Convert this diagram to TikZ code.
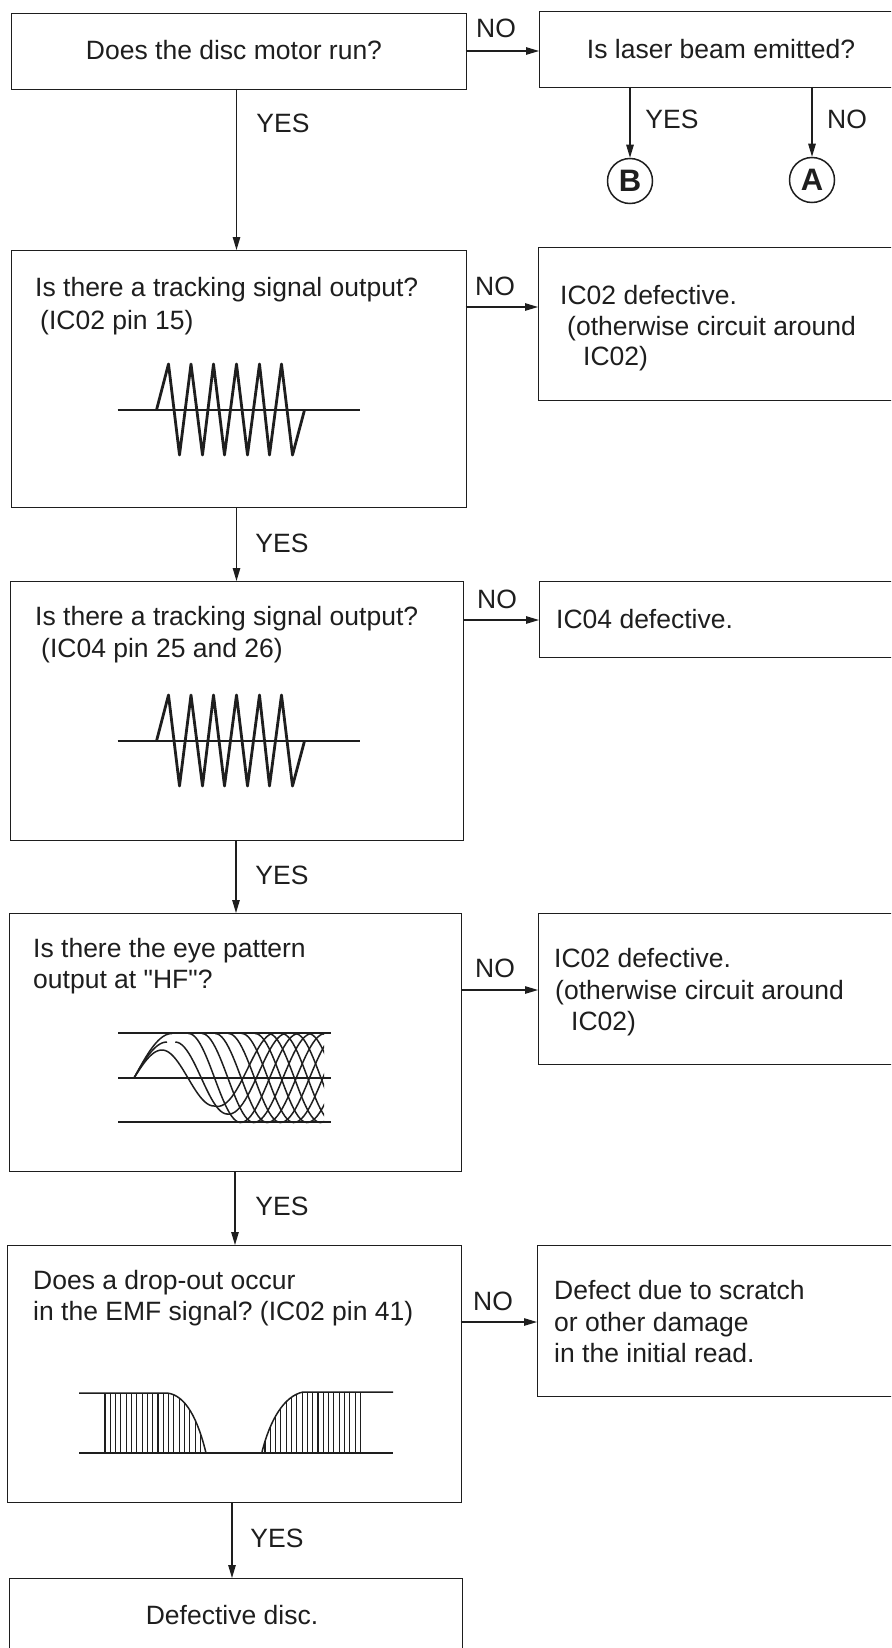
\documentclass[tikz,border=0pt]{standalone}
\usepackage{fontspec}
\newfontfamily\plainfont{Liberation Sans}
\usetikzlibrary{arrows.meta}
\definecolor{ink}{HTML}{1E1E1E}
\tikzset{
  box/.style={draw=ink,line width=1.4pt,anchor=north west,inner sep=0pt,rectangle},
  txt/.style={anchor=base west,inner sep=0pt,text=ink,font=\plainfont\frenchspacing\fontsize{26.5}{30}\selectfont},
  ctxt/.style={anchor=base,inner sep=0pt,text=ink,font=\plainfont\frenchspacing\fontsize{26.5}{30}\selectfont},
  arr/.style={draw=ink,line width=1.1pt,-{Triangle[length=13pt,width=7.5pt]}},
  conn/.style={draw=ink,line width=1.5pt,circle,minimum size=45pt,inner sep=0pt,text=ink,font=\plainfont\bfseries\fontsize{31}{31}\selectfont},
  wave/.style={draw=ink,line width=2.8pt,line join=round},
  rule/.style={draw=ink,line width=1.5pt},
  eye/.style={draw=ink,line width=1.5pt},
  hatch/.style={draw=ink,line width=1.1pt}
}
\begin{document}
\begin{tikzpicture}[x=1pt,y=-1pt]
\useasboundingbox (0,0) rectangle (891,1648);
\clip (0,0) rectangle (891,1648);
% boxes
\node[box,minimum width=455pt,minimum height=76pt] (b1) at (11,13) {};
\node[box,minimum width=380pt,minimum height=76pt] (b2) at (539,11) {};
\node[box,minimum width=455pt,minimum height=257pt] (b3) at (10.5,250) {};
\node[box,minimum width=380pt,minimum height=153pt] (r3) at (538,247) {};
\node[box,minimum width=453.5pt,minimum height=259pt] (b4) at (9.5,581) {};
\node[box,minimum width=380pt,minimum height=76pt] (r4) at (539,581) {};
\node[box,minimum width=452.5pt,minimum height=258pt] (b5) at (8.5,913) {};
\node[box,minimum width=380pt,minimum height=151pt] (r5) at (538,913) {};
\node[box,minimum width=454pt,minimum height=257pt] (b6) at (6.5,1245) {};
\node[box,minimum width=380pt,minimum height=151pt] (r6) at (537,1245) {};
\node[box,minimum width=453pt,minimum height=100pt] (b7) at (8.5,1578) {};
\node[conn] (B) at (630,181) {B};
\node[conn] (A) at (812,180) {A};
% free ends of connectors
\coordinate (s1) at (465.5,51);
\coordinate (s2y) at (630,87);
\coordinate (s2n) at (812,87);
\coordinate (s3) at (465.5,307);
\coordinate (s4) at (463,620);
\coordinate (s5) at (461,990);
\coordinate (s6) at (460.5,1322);
\coordinate (v1) at (236.5,89);
\coordinate (v2) at (236.5,507);
\coordinate (v3) at (236,840);
\coordinate (v4) at (235,1171);
\coordinate (v5) at (232,1502);
% connectors
\draw[arr] (s1) -- (s1 -| b2.west);
\draw[arr] (s2y) -- (B.north);
\draw[arr] (s2n) -- (A.north);
\draw[arr] (v1) -- (v1 |- b3.north);
\draw[arr] (v2) -- (v2 |- b4.north);
\draw[arr] (v3) -- (v3 |- b5.north);
\draw[arr] (v4) -- (v4 |- b6.north);
\draw[arr] (v5) -- (v5 |- b7.north);
\draw[arr] (s3) -- (s3 -| r3.west);
\draw[arr] (s4) -- (s4 -| r4.west);
\draw[arr] (s5) -- (s5 -| r5.west);
\draw[arr] (s6) -- (s6 -| r6.west);
% connector labels
\node[ctxt] (l1) at (496,38) {NO};
\node[ctxt] (l2) at (672,129) {YES};
\node[ctxt] (l3) at (847,129) {NO};
\node[ctxt] (l4) at (283,133) {YES};
\node[ctxt] (l5) at (495,295) {NO};
\node[ctxt] (l6) at (282,552) {YES};
\node[ctxt] (l7) at (497,608) {NO};
\node[ctxt] (l8) at (282,884) {YES};
\node[ctxt] (l9) at (495,977) {NO};
\node[ctxt] (l10) at (282,1215) {YES};
\node[ctxt] (l11) at (493,1310) {NO};
\node[ctxt] (l12) at (277,1547) {YES};
% box texts
\node[ctxt] (t1) at (234,60) {Does the disc motor run?};
\node[ctxt] (t2) at (721,59) {Is laser beam emitted?};
\node[txt] (t3a) at (35,296) {Is there a tracking signal output?};
\node[txt] (t3b) at (40,329) {(IC02 pin 15)};
\node[txt] (t3c) at (560,304) {IC02 defective.};
\node[txt] (t3d) at (567,335) {(otherwise circuit around};
\node[txt] (t3e) at (583,365) {IC02)};
\node[txt] (t4a) at (35,625) {Is there a tracking signal output?};
\node[txt] (t4b) at (41,657) {(IC04 pin 25 and 26)};
\node[txt] (t4c) at (556,628) {IC04 defective.};
\node[txt] (t5a) at (33,957) {Is there the eye pattern};
\node[txt] (t5b) at (33,988) {output at "HF"?};
\node[txt] (t5c) at (554,967) {IC02 defective.};
\node[txt] (t5d) at (555,999) {(otherwise circuit around};
\node[txt] (t5e) at (571,1030) {IC02)};
\node[txt] (t6a) at (33,1289) {Does a drop-out occur};
\node[txt] (t6b) at (33,1320) {in the EMF signal? (IC02 pin 41)};
\node[txt] (t6c) at (554,1299) {Defect due to scratch};
\node[txt] (t6d) at (554,1331) {or other damage};
\node[txt] (t6e) at (554,1362) {in the initial read.};
\node[ctxt] (t7) at (232,1624) {Defective disc.};
% tracking waveforms
\foreach \dy in {0,331}{
  \begin{scope}[yshift=-\dy pt,xshift=-0.5pt]
    \draw[rule] (118,410) -- (360,410);
    \draw[wave] (157,410) -- (169,364) -- (180,455) -- (191.5,364) -- (203,455) -- (214,364) -- (225,455) -- (237,364) -- (248,455) -- (260,364) -- (270,455) -- (282,364) -- (293,455) -- (305,410);
  \end{scope}
}
% eye pattern
\draw[rule] (118,1033) -- (331,1033);
\draw[rule] (118,1078) -- (331,1078);
\draw[rule] (118,1122) -- (331,1122);
\begin{scope}
  \clip (120,1025) rectangle (324,1130);
  \draw[eye] plot[domain=134:162,samples=20] (\x,{1078-28*sin(90*(\x-134)/28)});
  \draw[eye] plot[domain=134:167,samples=20] (\x,{1078-36*sin(90*(\x-134)/33)});
  \draw[eye] plot[domain=134:172,samples=20] (\x,{1078-44.5*sin(90*(\x-134)/38)});
  \foreach \k/\amp in {0/28,1/36,2/44.5,3/44.5,4/44.5,5/44.5,6/44.5,7/44.5,8/44.5,9/44.5,10/44.5,11/44.5,12/44.5}{
    \pgfmathsetmacro{\xp}{162+13.3*\k}
    \pgfmathsetmacro{\xm}{\xp+52}
    \pgfmathsetmacro{\xe}{\xm+58}
    \draw[eye] plot[domain=\xp:\xm,samples=24] (\x,{1078-\amp*cos((\x-\xp)/52*180)})
       -- plot[domain=\xm:\xe,samples=24] (\x,{1078+(\amp+(44.5-\amp)*(\x-\xm)/58)*cos((\x-\xm)/58*180)});
  }
\end{scope}
% EMF signal
\draw[rule] (79,1393) -- (167,1393) .. controls (186,1395) and (198,1420) .. (206,1453);
\draw[rule] (79,1453) -- (393,1453);
\draw[rule] (262,1452) .. controls (270,1420) and (284,1396) .. (303,1392) -- (393,1392);
\begin{scope}
  \clip (100,1393) -- (167,1393) .. controls (186,1395) and (198,1420) .. (206,1453) -- (100,1453) -- cycle;
  \foreach \hx in {105,110.3,...,206}{\draw[hatch] (\hx,1385) -- (\hx,1460);}
\end{scope}
\begin{scope}
  \clip (262,1452) .. controls (270,1420) and (284,1396) .. (303,1392) -- (370,1392) -- (370,1453) -- (262,1453) -- cycle;
  \foreach \hx in {265,270.3,...,364}{\draw[hatch] (\hx,1385) -- (\hx,1460);}
\end{scope}
\end{tikzpicture}
\end{document}
